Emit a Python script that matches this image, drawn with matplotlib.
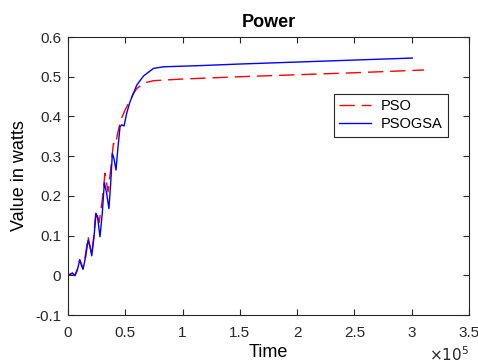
import numpy as np
import matplotlib
matplotlib.use("Agg")
import matplotlib.pyplot as plt
from matplotlib.ticker import FuncFormatter

plt.rcParams['font.family'] = ['Liberation Sans', 'DejaVu Sans']
plt.rcParams['axes.unicode_minus'] = False

# PSO curve (time in s, power in W)
pso_t = [0, 0.38e4, 0.61e4, 0.81e4, 1.02e4, 1.31e4, 1.54e4, 1.75e4, 2.07e4, 2.27e4,
         2.44e4, 2.72e4, 2.99e4, 3.23e4, 3.49e4, 3.7e4, 3.96e4, 4.15e4, 4.35e4,
         4.6e4, 4.98e4, 5.41e4, 5.71e4, 6.0e4, 6.59e4, 7.46e4, 9.8e4, 15e4, 20e4,
         25e4, 3.107e5]
pso_v = [0, 0.006, 0, 0.015, 0.04, 0.018, 0.055, 0.097, 0.052, 0.105,
         0.163, 0.133, 0.19, 0.257, 0.21, 0.26, 0.332, 0.328, 0.36,
         0.391, 0.416, 0.44, 0.458, 0.47, 0.484, 0.49, 0.494, 0.5, 0.505,
         0.51, 0.517]

# PSOGSA curve
psogsa_t = [0, 0.23e4, 0.38e4, 0.61e4, 0.81e4, 1.02e4, 1.16e4, 1.31e4, 1.54e4,
            1.75e4, 1.92e4, 2.07e4, 2.27e4, 2.44e4, 2.59e4, 2.79e4, 2.99e4,
            3.17e4, 3.35e4, 3.57e4, 3.72e4, 3.87e4, 4.0e4, 4.19e4, 4.35e4,
            4.54e4, 4.69e4, 4.89e4, 5.12e4, 5.41e4, 6.0e4, 6.59e4, 7.46e4,
            8.33e4, 11.5e4, 15e4, 20e4, 25e4, 3.005e5]
psogsa_v = [0, 0.003, 0.005, -0.001, 0.013, 0.038, 0.026, 0.015, 0.047,
            0.089, 0.072, 0.049, 0.097, 0.156, 0.144, 0.097, 0.156,
            0.233, 0.21, 0.168, 0.23, 0.307, 0.295, 0.265, 0.32,
            0.374, 0.379, 0.376, 0.408, 0.437, 0.479, 0.502, 0.521,
            0.525, 0.528, 0.532, 0.537, 0.542, 0.547]

fig = plt.figure(figsize=(4.78, 3.64), dpi=100)
ax = fig.add_axes([0.1423, 0.1346, 0.839, 0.7637])

ax.plot(pso_t, pso_v, color="red", lw=1.0, dashes=(11, 5), label="PSO")
ax.plot(psogsa_t, psogsa_v, color="blue", lw=1.0, label="PSOGSA")

ax.set_xlim(0, 3.5e5)
ax.set_ylim(-0.1, 0.6)
ax.set_xticks(np.arange(0, 3.51e5, 0.5e5))
ax.set_yticks(np.arange(-0.1, 0.61, 0.1))
ax.xaxis.set_major_formatter(FuncFormatter(lambda v, p: "%g" % round(v / 1e5, 2)))
ax.yaxis.set_major_formatter(FuncFormatter(lambda v, p: "%g" % round(v, 2)))
ax.tick_params(direction="in", length=4, width=0.8, top=True, right=True,
               labelsize=11, colors="#262626")
ax.tick_params(axis="x", pad=8)
ax.tick_params(axis="y", pad=5)
for s in ax.spines.values():
    s.set_color("#262626")
    s.set_linewidth(0.8)

ax.set_title("Power", fontsize=13, fontweight="bold", pad=7.5)
ax.set_xlabel("Time", fontsize=13, labelpad=3)
ax.set_ylabel("Value in watts", fontsize=13, labelpad=5)
ax.text(1.0, -0.108, r"$\times 10^5$", transform=ax.transAxes, ha="right",
        va="top", fontsize=11, color="#262626")

leg = ax.legend(loc="upper right", bbox_to_anchor=(0.9476, 0.795), fontsize=10.5,
                fancybox=False, framealpha=1, edgecolor="#262626",
                handlelength=2.2, borderpad=0.35, labelspacing=0.3,
                handletextpad=0.7, borderaxespad=0)
leg.get_frame().set_linewidth(0.8)

fig.savefig("out.png", dpi=100)
